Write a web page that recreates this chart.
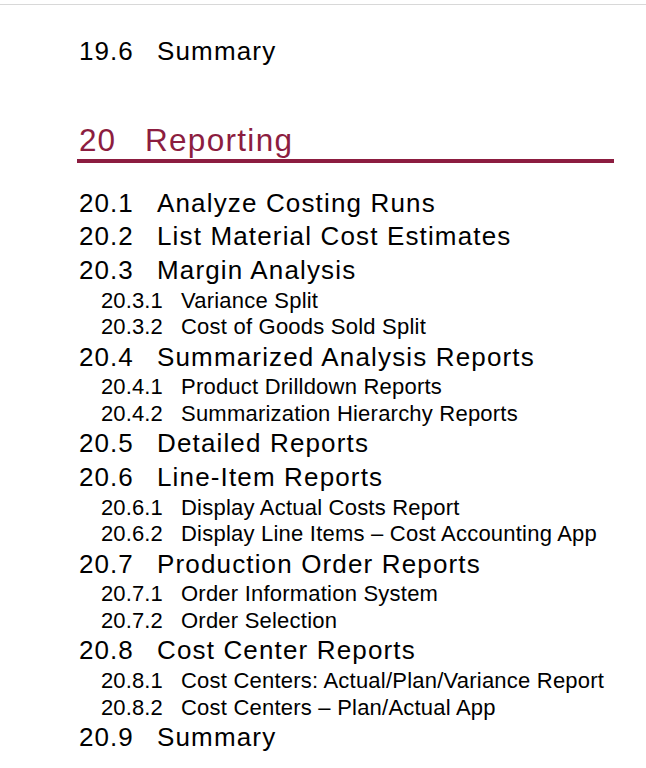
<!DOCTYPE html>
<html>
<head>
<meta charset="utf-8">
<script src="https://cdn.jsdelivr.net/npm/chart.js@4"></script>
<style>
  html, body { margin: 0; padding: 0; background: #fff; }
  body { width: 646px; height: 768px; overflow: hidden; position: relative; font-family: "Liberation Sans", Arial, sans-serif; color: #000; }
  .topline { position: absolute; left: 0; top: 4px; width: 646px; height: 1px; background: #d8d8d8; }
  .wrap { position: absolute; left: 79px; top: 0; width: 535px; }
  .row { white-space: nowrap; position: relative; }
  .l1 { font-size: 26px; height: 33.7px; line-height: 33.7px; letter-spacing: 1.15px; }
  .l2 { font-size: 22px; height: 26.5px; line-height: 26.5px; padding-left: 22px; letter-spacing: 0.22px; }
  .num { display: inline-block; letter-spacing: 1px; }
  .l1 .num { width: 78px; }
  .l2 .num { width: 80px; letter-spacing: 0.1px; }
  .prev { position: absolute; top: 35px; }
  .chap { position: absolute; top: 122px; left: 0; width: 535px; font-size: 31.5px; color: #8c1d40; line-height: 36px; letter-spacing: 1.3px; }
  .chap .num { width: 66px; }
  .rule { position: absolute; left: -2px; top: 159px; width: 537px; height: 3.5px; background: #8c1d40; }
  .list { position: absolute; top: 186.5px; left: 0; }
</style>
</head>
<body>
<div class="topline"></div>
<div class="wrap">
  <div class="row l1 prev" id="prev"></div>
  <div class="row chap" id="chap"></div>
  <div class="rule"></div>
  <div class="list" id="list"></div>
</div>
<script>
const prevNumber = "19.6";
const prevTitle = "Summary";
const chapterNumber = "20";
const chapterTitle = "Reporting";
const numbers = ["20.1","20.2","20.3","20.3.1","20.3.2","20.4","20.4.1","20.4.2","20.5","20.6","20.6.1","20.6.2","20.7","20.7.1","20.7.2","20.8","20.8.1","20.8.2","20.9"];
const titles = ["Analyze Costing Runs","List Material Cost Estimates","Margin Analysis","Variance Split","Cost of Goods Sold Split","Summarized Analysis Reports","Product Drilldown Reports","Summarization Hierarchy Reports","Detailed Reports","Line-Item Reports","Display Actual Costs Report","Display Line Items \u2013 Cost Accounting App","Production Order Reports","Order Information System","Order Selection","Cost Center Reports","Cost Centers: Actual/Plan/Variance Report","Cost Centers \u2013 Plan/Actual App","Summary"];
const levels = numbers.map(n => n.split(".").length - 1);

function fill(el, num, title) {
  const a = document.createElement("span"); a.className = "num"; a.textContent = num;
  const b = document.createElement("span"); b.textContent = title;
  el.appendChild(a); el.appendChild(b);
}
fill(document.getElementById("prev"), prevNumber, prevTitle);
fill(document.getElementById("chap"), chapterNumber, chapterTitle);
const list = document.getElementById("list");
numbers.forEach((n, i) => {
  const d = document.createElement("div");
  d.className = "row " + (levels[i] === 1 ? "l1" : "l2");
  fill(d, n, titles[i]);
  list.appendChild(d);
});
</script>
</body>
</html>
